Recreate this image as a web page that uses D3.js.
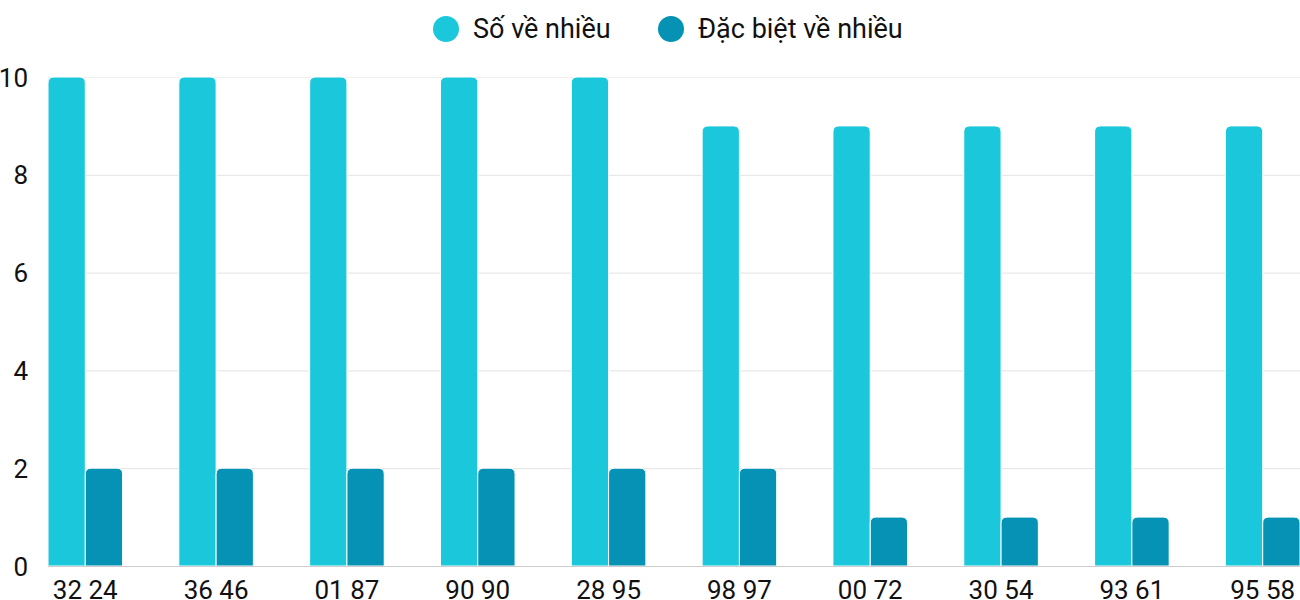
<!DOCTYPE html>
<html><head><meta charset="utf-8">
<script src="https://cdn.jsdelivr.net/npm/d3@7"></script>
<style>body{margin:0;background:#fff}svg{display:block}text{font-family:Roboto,"Noto Sans",sans-serif}</style>
</head><body><svg id="c" width="1300" height="600"></svg>
<script>
const categories = ["32 24","36 46","01 87","90 90","28 95","98 97","00 72","30 54","93 61","95 58"];
const seriesNames = ["Số về nhiều","Đặc biệt về nhiều"];
const soVeNhieu = [10,10,10,10,10,9,9,9,9,9];
const dacBietVeNhieu = [2,2,2,2,2,2,1,1,1,1];
const yTicks = [0,2,4,6,8,10];
const colors = ["#1bc8db","#0592b5"];

(function(){
const svg = d3.select("#c");
const pLeft = 48, pRight = 1300, pTop = 77, pBottom = 566;
const x = d3.scaleBand().domain(categories).range([pLeft, pRight]).paddingInner(0.43).paddingOuter(0);
const xs = d3.scaleBand().domain([0,1]).range([0, x.bandwidth()]).padding(0);
const y = d3.scaleLinear().domain([0,10]).range([pBottom, pTop]);

svg.append("g").selectAll("line").data(yTicks.filter(d=>d>0)).join("line")
  .attr("x1", pLeft).attr("x2", pRight).attr("y1", d=>y(d)+0.5).attr("y2", d=>y(d)+0.5)
  .attr("stroke", d=> d===10 ? "#f0f0f0" : "#e3e3e3").attr("stroke-width",1);

svg.append("g").selectAll("text").data(yTicks).join("text")
  .attr("x", 28).attr("y", d=>y(d)+9.5).attr("text-anchor","end")
  .attr("font-size",26).attr("fill","#111").text(d=>d);

function barPath(x0, w, y0, y1, r){
  r = Math.min(r, w/2, (y1-y0));
  return `M${x0},${y1}V${y0+r}Q${x0},${y0} ${x0+r},${y0}H${x0+w-r}Q${x0+w},${y0} ${x0+w},${y0+r}V${y1}Z`;
}
const series = [soVeNhieu, dacBietVeNhieu];
series.forEach((vals, si) => {
  svg.append("g").selectAll("path").data(vals).join("path")
    .attr("d", (d,i) => barPath(x(categories[i]) + xs(si), xs.bandwidth(), y(d), y(0), 6))
    .attr("fill", colors[si]).attr("stroke","#fff").attr("stroke-width",1);
});

svg.append("line").attr("x1", pLeft).attr("x2", pRight).attr("y1", y(0)+0.5).attr("y2", y(0)+0.5)
  .attr("stroke","#ccc").attr("stroke-width",1);

svg.append("g").selectAll("text").data(categories).join("text")
  .attr("x", d=>x(d)+x.bandwidth()/2).attr("y", 599).attr("text-anchor","middle")
  .attr("font-size",26).attr("fill","#111").text(d=>d);

const legX = [446, 671];
seriesNames.forEach((n,i)=>{
  svg.append("circle").attr("cx", legX[i]).attr("cy", 29).attr("r", 13).attr("fill", colors[i]);
  svg.append("text").attr("x", legX[i]+27).attr("y", 38).attr("font-size",27).attr("fill","#111").text(n);
});
})();
</script></body></html>
